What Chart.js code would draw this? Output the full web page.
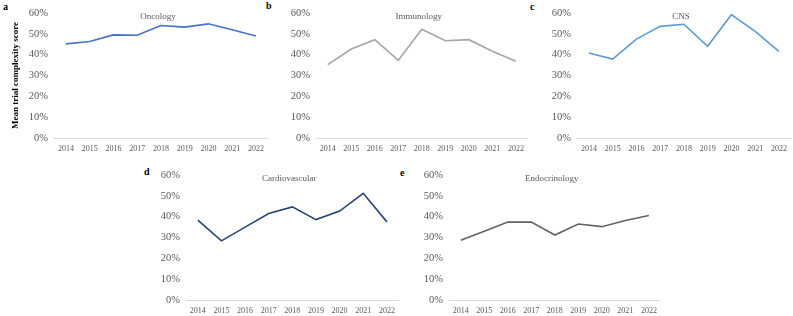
<!DOCTYPE html>
<html>
<head>
<meta charset="utf-8">
<script src="https://cdn.jsdelivr.net/npm/chart.js@4"></script>
<style>
  html, body { margin: 0; padding: 0; background: #ffffff; }
  body { width: 793px; height: 316px; position: relative; overflow: hidden; font-family: "Liberation Serif", "Times New Roman", serif; }
  .panel { position: absolute; }
  .letter { position: absolute; font-weight: bold; font-size: 10px; line-height: 10px; color: #000; }
</style>
</head>
<body>
<div class="letter" style="left:3px;top:2px;">a</div>
<div class="letter" style="left:266px;top:1px;">b</div>
<div class="letter" style="left:530px;top:2px;">c</div>
<div class="letter" style="left:144px;top:167px;">d</div>
<div class="letter" style="left:400px;top:168px;">e</div>

<div class="panel" style="left:0px;top:0px;width:270px;height:154px;"><canvas id="cA"></canvas></div>
<div class="panel" style="left:276px;top:0px;width:254px;height:154px;"><canvas id="cB"></canvas></div>
<div class="panel" style="left:537px;top:0px;width:256px;height:154px;"><canvas id="cC"></canvas></div>
<div class="panel" style="left:146px;top:162px;width:255px;height:154px;"><canvas id="cD"></canvas></div>
<div class="panel" style="left:409px;top:162px;width:254px;height:154px;"><canvas id="cE"></canvas></div>

<script>
// ---- Data ----
const years = ['2014', '2015', '2016', '2017', '2018', '2019', '2020', '2021', '2022'];
const yTicks = [0, 10, 20, 30, 40, 50, 60];
const oncology = [45.2, 46.3, 49.5, 49.3, 54.0, 53.2, 54.8, 52.0, 49.0];
const immunology = [35.2, 42.7, 47.2, 37.3, 52.2, 46.7, 47.2, 41.6, 36.8];
const cns = [40.8, 37.9, 47.5, 53.6, 54.6, 44.0, 59.2, 51.2, 41.6];
const cardiovascular = [38.3, 28.4, 35.0, 41.5, 44.7, 38.6, 42.7, 51.2, 37.5];
const endocrinology = [28.7, 33.0, 37.4, 37.4, 31.2, 36.5, 35.2, 38.2, 40.6];

const FONT = '"Liberation Serif", "Times New Roman", serif';
const TICK_COLOR = '#595959';

const panelTitlePlugin = {
  id: 'panelTitle',
  afterDraw(chart, args, opts) {
    if (!opts || !opts.text) return;
    const { ctx, chartArea } = chart;
    ctx.save();
    ctx.font = '9px ' + FONT;
    ctx.fillStyle = TICK_COLOR;
    ctx.textAlign = 'center';
    ctx.textBaseline = 'middle';
    ctx.fillText(opts.text, (chartArea.left + chartArea.right) / 2 - 3, chartArea.top + 4);
    ctx.restore();
  }
};

function makeChart(id, title, values, color, yWidth, withYTitle) {
  const ctx = document.getElementById(id);
  return new Chart(ctx, {
    type: 'line',
    data: {
      labels: years,
      datasets: [{
        data: values,
        borderColor: color,
        backgroundColor: color,
        borderWidth: 1.6,
        pointRadius: 0,
        tension: 0,
        fill: false
      }]
    },
    options: {
      responsive: true,
      maintainAspectRatio: false,
      animation: false,
      events: [],
      layout: { padding: { top: 13, right: 2, left: 0, bottom: 0 } },
      plugins: {
        legend: { display: false },
        tooltip: { enabled: false },
        title: { display: false },
        panelTitle: { text: title }
      },
      scales: {
        x: {
          type: 'category',
          offset: true,
          grid: { display: false, drawTicks: false },
          border: { display: true, color: '#d9d9d9', width: 1 },
          ticks: {
            color: TICK_COLOR,
            font: { family: FONT, size: 8 },
            padding: 6,
            maxRotation: 0,
            autoSkip: false
          },
          afterFit(scale) { scale.height = 16; }
        },
        y: {
          min: 0,
          max: 60,
          afterBuildTicks(scale) { scale.ticks = yTicks.map(v => ({ value: v })); },
          grid: { display: false, drawTicks: false },
          border: { display: false },
          ticks: {
            color: TICK_COLOR,
            font: { family: FONT, size: 10.5 },
            padding: 6,
            callback: v => v + '%'
          },
          title: withYTitle ? {
            display: true,
            text: 'Mean trial complexity score',
            color: '#000000',
            font: { family: FONT, size: 9, weight: 'bold' },
            padding: { top: 10, bottom: 0 }
          } : { display: false },
          afterFit(scale) { scale.width = yWidth; }
        }
      }
    },
    plugins: [panelTitlePlugin]
  });
}

makeChart('cA', 'Oncology', oncology, '#4472C4', 54, true);
makeChart('cB', 'Immunology', immunology, '#A5A5A5', 40, false);
makeChart('cC', 'CNS', cns, '#5B9BD5', 40, false);
makeChart('cD', 'Cardiovascular', cardiovascular, '#264478', 40, false);
makeChart('cE', 'Endocrinology', endocrinology, '#636363', 40, false);
</script>
</body>
</html>
